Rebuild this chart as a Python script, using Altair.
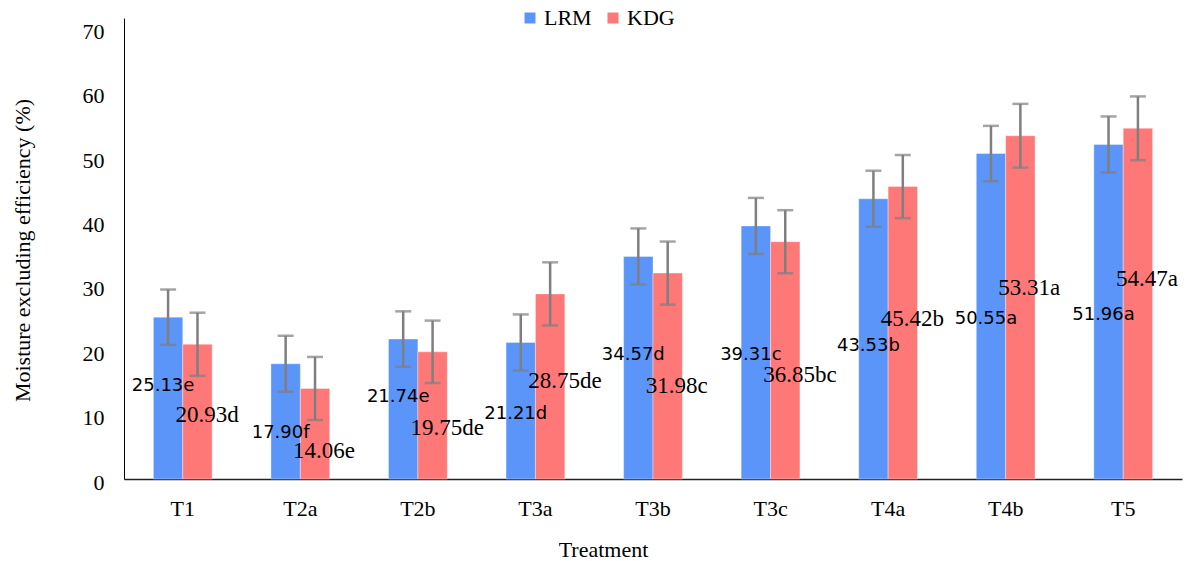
import altair as alt
import pandas as pd

treatments = ["T1", "T2a", "T2b", "T3a", "T3b", "T3c", "T4a", "T4b", "T5"]
series_names = ["LRM", "KDG"]

lrm_values = [25.13, 17.90, 21.74, 21.21, 34.57, 39.31, 43.53, 50.55, 51.96]
kdg_values = [20.93, 14.06, 19.75, 28.75, 31.98, 36.85, 45.42, 53.31, 54.47]

lrm_letters = ["e", "f", "e", "d", "d", "c", "b", "a", "a"]
kdg_letters = ["d", "e", "de", "de", "c", "bc", "b", "a", "a"]

lrm_errors = [4.3, 4.35, 4.3, 4.35, 4.35, 4.35, 4.35, 4.3, 4.35]
kdg_errors = [4.9, 4.9, 4.85, 4.9, 4.9, 4.9, 4.9, 4.95, 4.95]

# where the data labels sit, in axis units (as placed in the original figure)
lrm_label_anchor = [14.4, 7.1, 12.8, 10.1, 19.2, 19.3, 20.7, 24.9, 25.4]
kdg_label_anchor = [9.9, 4.3, 7.9, 15.2, 14.4, 16.1, 24.9, 29.7, 31.1]

y_ticks = [0, 10, 20, 30, 40, 50, 60, 70]

rows = []
for i, t in enumerate(treatments):
    rows.append(dict(treatment=t, series="LRM", value=lrm_values[i], err=lrm_errors[i],
                     label=f"{lrm_values[i]:.2f}{lrm_letters[i]}", anchor=lrm_label_anchor[i]))
    rows.append(dict(treatment=t, series="KDG", value=kdg_values[i], err=kdg_errors[i],
                     label=f"{kdg_values[i]:.2f}{kdg_letters[i]}", anchor=kdg_label_anchor[i]))
df = pd.DataFrame(rows)
df["lo"] = df["value"] - df["err"]
df["hi"] = df["value"] + df["err"]

BLUE = "#5B95FA"
RED = "#FF7878"
SERIF = "Liberation Serif"

x_enc = alt.X("treatment:N", sort=treatments,
              scale=alt.Scale(paddingInner=0.5, paddingOuter=0.25),
              axis=alt.Axis(title="Treatment", labelAngle=0, ticks=False,
                            labelFont=SERIF, labelFontSize=22, labelColor="black",
                            labelPadding=19, domainColor="#222222", domainWidth=1.6,
                            titleFont=SERIF, titleFontSize=22, titleFontWeight="normal",
                            titleColor="black", titleX=479, titleY=70,
                            titleBaseline="middle", titleAlign="center"))
xo_enc = alt.XOffset("series:N", sort=series_names)
y_scale = alt.Scale(domain=[0, 71.6], nice=False, zero=True)

base = alt.Chart(df).encode(x=x_enc, xOffset=xo_enc)

bars = base.mark_bar(stroke="white", strokeOpacity=0.35, strokeWidth=1).encode(
    y=alt.Y("value:Q", scale=y_scale,
            axis=alt.Axis(title="Moisture excluding efficiency (%)", values=y_ticks,
                          grid=False, ticks=False, labelFont=SERIF, labelFontSize=22,
                          labelColor="black", labelPadding=20, labelOffset=3,
                          domainColor="black", domainWidth=1,
                          titleFont=SERIF, titleFontSize=22, titleFontWeight="normal",
                          titleColor="black", titleX=-102, titleY=232,
                          titleAngle=-90, titleBaseline="middle", titleAlign="center")),
    color=alt.Color("series:N", sort=series_names,
                    scale=alt.Scale(domain=series_names, range=[BLUE, RED]),
                    legend=alt.Legend(orient="none", legendX=395, legendY=-11,
                                      direction="horizontal", title=None,
                                      symbolType="square", symbolSize=121,
                                      symbolStrokeWidth=0, labelFont=SERIF,
                                      labelFontSize=22, labelColor="black",
                                      labelOffset=3, columnPadding=10, padding=0)),
)

err_rule = base.mark_rule(color="#7F7F7F", strokeWidth=2.5).encode(
    y=alt.Y("lo:Q", scale=y_scale), y2="hi:Q")
cap_lo = base.mark_tick(color="#7F7F7F", thickness=2.5, size=16).encode(
    y=alt.Y("lo:Q", scale=y_scale))
cap_hi = base.mark_tick(color="#7F7F7F", thickness=2.5, size=16).encode(
    y=alt.Y("hi:Q", scale=y_scale))

lrm_text = base.transform_filter(alt.datum.series == "LRM").mark_text(
    font="DejaVu Sans", fontSize=18, color="black", align="center", baseline="middle", dx=-5
).encode(y=alt.Y("anchor:Q", scale=y_scale), text="label:N")

kdg_text = base.transform_filter(alt.datum.series == "KDG").mark_text(
    font=SERIF, fontSize=23, color="black", align="left", baseline="middle", dx=-22
).encode(y=alt.Y("anchor:Q", scale=y_scale), text="label:N")

chart = alt.layer(bars, err_rule, cap_lo, cap_hi, lrm_text, kdg_text).properties(
    width=1058, height=461,
    autosize=alt.AutoSizeParams(type="none"),
    padding={"left": 124, "top": 18, "right": 10, "bottom": 82},
    background="white",
).configure_view(stroke=None)

chart.save("out.html", embed_options={"renderer": "svg", "actions": False})
